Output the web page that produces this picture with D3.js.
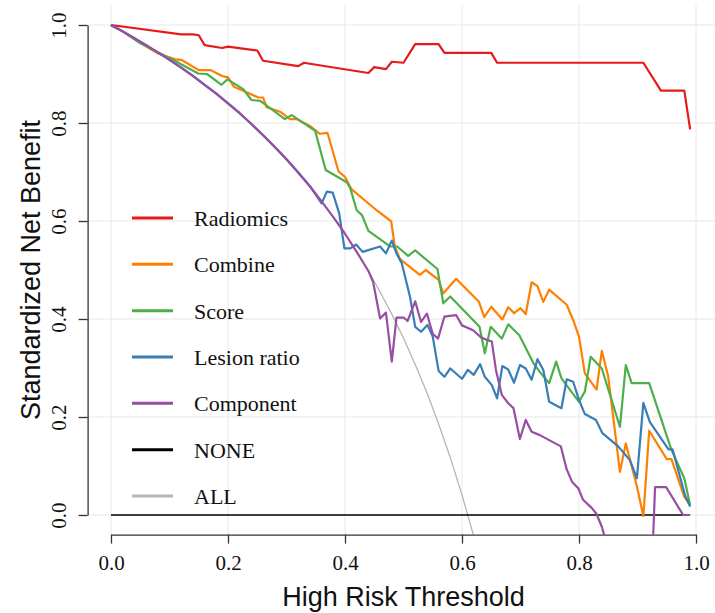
<!DOCTYPE html>
<html><head><meta charset="utf-8">
<script src="https://cdn.jsdelivr.net/npm/d3@7"></script>
<style>body{margin:0;background:#fff}svg{display:block}</style>
</head><body>
<svg id="chart" width="715" height="613"></svg>
<script>
// ---------- data ----------
const xTicks = [0, 0.2, 0.4, 0.6, 0.8, 1.0];
const yTicks = [0, 0.2, 0.4, 0.6, 0.8, 1.0];
const legendLabels = ["Radiomics", "Combine", "Score", "Lesion ratio", "Component", "NONE", "ALL"];
const legendColors = ["#E41A1C", "#FF7F00", "#4DAF4A", "#377EB8", "#984EA3", "#000000", "#B5B5B5"];

const radiomics = [[0,1.0],[0.12,0.981],[0.14,0.981],[0.15,0.979],[0.16,0.959],[0.19,0.953],[0.20,0.956],[0.25,0.948],[0.26,0.927],[0.32,0.916],[0.33,0.923],[0.34,0.921],[0.44,0.902],[0.45,0.914],[0.47,0.910],[0.48,0.925],[0.50,0.923],[0.52,0.961],[0.56,0.961],[0.57,0.943],[0.65,0.943],[0.66,0.923],[0.91,0.923],[0.94,0.866],[0.98,0.866],[0.99,0.787]];

const combine = [[0,1.0],[0.02,0.987],[0.05,0.963],[0.08,0.942],[0.11,0.930],[0.12,0.929],[0.15,0.908],[0.17,0.908],[0.19,0.896],[0.20,0.893],[0.21,0.874],[0.226,0.866],[0.252,0.852],[0.26,0.852],[0.266,0.832],[0.289,0.823],[0.306,0.808],[0.317,0.808],[0.34,0.794],[0.357,0.778],[0.37,0.780],[0.389,0.701],[0.40,0.690],[0.411,0.665],[0.454,0.622],[0.479,0.599],[0.485,0.548],[0.494,0.522],[0.528,0.490],[0.538,0.500],[0.56,0.480],[0.568,0.452],[0.59,0.482],[0.629,0.435],[0.638,0.404],[0.65,0.425],[0.669,0.399],[0.679,0.424],[0.689,0.412],[0.70,0.422],[0.709,0.410],[0.719,0.475],[0.729,0.467],[0.739,0.435],[0.749,0.460],[0.779,0.429],[0.79,0.398],[0.80,0.364],[0.81,0.289],[0.83,0.256],[0.839,0.335],[0.85,0.282],[0.87,0.088],[0.88,0.146],[0.899,0.058],[0.91,-0.002],[0.92,0.172],[0.95,0.114],[0.958,0.114],[0.98,0.037],[0.99,0.020]];

const score = [[0,1.0],[0.02,0.987],[0.05,0.963],[0.112,0.925],[0.149,0.901],[0.164,0.900],[0.189,0.878],[0.199,0.889],[0.226,0.869],[0.24,0.847],[0.255,0.845],[0.275,0.828],[0.297,0.808],[0.309,0.816],[0.349,0.784],[0.367,0.704],[0.403,0.679],[0.409,0.667],[0.42,0.622],[0.429,0.612],[0.44,0.580],[0.477,0.548],[0.489,0.548],[0.508,0.529],[0.52,0.540],[0.558,0.502],[0.568,0.432],[0.58,0.446],[0.63,0.384],[0.639,0.330],[0.649,0.384],[0.668,0.360],[0.679,0.389],[0.698,0.367],[0.722,0.310],[0.733,0.292],[0.749,0.269],[0.761,0.313],[0.77,0.279],[0.80,0.231],[0.81,0.252],[0.82,0.323],[0.839,0.299],[0.87,0.180],[0.88,0.306],[0.89,0.269],[0.92,0.269],[0.958,0.133],[0.98,0.075],[0.99,0.020]];

const lesionRatio = [[0,1.0],[0.02,0.987],[0.04,0.973],[0.06,0.959],[0.08,0.944],[0.10,0.929],[0.12,0.913],[0.14,0.896],[0.16,0.878],[0.18,0.860],[0.20,0.840],[0.22,0.820],[0.24,0.798],[0.26,0.775],[0.28,0.751],[0.30,0.726],[0.32,0.699],[0.34,0.671],[0.36,0.636],[0.369,0.660],[0.379,0.658],[0.39,0.616],[0.399,0.544],[0.409,0.544],[0.419,0.552],[0.43,0.537],[0.46,0.548],[0.47,0.534],[0.48,0.560],[0.488,0.534],[0.497,0.514],[0.511,0.446],[0.52,0.384],[0.53,0.374],[0.541,0.388],[0.55,0.364],[0.56,0.294],[0.57,0.282],[0.58,0.299],[0.60,0.278],[0.61,0.296],[0.62,0.286],[0.631,0.308],[0.639,0.282],[0.651,0.265],[0.66,0.238],[0.669,0.304],[0.679,0.297],[0.689,0.270],[0.699,0.306],[0.709,0.299],[0.719,0.276],[0.729,0.318],[0.739,0.296],[0.749,0.231],[0.77,0.218],[0.779,0.277],[0.79,0.272],[0.80,0.235],[0.81,0.206],[0.829,0.194],[0.84,0.167],[0.867,0.140],[0.887,0.112],[0.899,0.075],[0.91,0.229],[0.921,0.190],[0.953,0.134],[0.96,0.134],[0.981,0.041],[0.99,0.017]];

const component = [[0,1.0],[0.02,0.987],[0.04,0.973],[0.06,0.959],[0.08,0.944],[0.10,0.929],[0.12,0.913],[0.14,0.896],[0.16,0.878],[0.18,0.860],[0.20,0.840],[0.22,0.820],[0.24,0.798],[0.26,0.775],[0.28,0.751],[0.30,0.726],[0.32,0.699],[0.34,0.671],[0.36,0.640],[0.38,0.608],[0.40,0.574],[0.42,0.537],[0.44,0.498],[0.448,0.476],[0.46,0.401],[0.47,0.413],[0.48,0.313],[0.488,0.403],[0.50,0.403],[0.507,0.396],[0.52,0.436],[0.53,0.394],[0.54,0.411],[0.55,0.370],[0.559,0.360],[0.57,0.405],[0.59,0.408],[0.60,0.387],[0.619,0.377],[0.632,0.363],[0.641,0.358],[0.651,0.354],[0.658,0.296],[0.668,0.245],[0.679,0.228],[0.688,0.218],[0.699,0.155],[0.709,0.194],[0.719,0.170],[0.733,0.163],[0.769,0.140],[0.779,0.093],[0.788,0.068],[0.799,0.054],[0.807,0.031],[0.822,0.014],[0.83,0.002],[0.839,-0.024],[0.85,-0.070],[0.88,-0.120],[0.925,-0.100],[0.93,0.057],[0.949,0.057],[0.978,0.0],[0.99,0.0]];

const none = [[0,0],[0.99,0]];

const all = [[0,1.0],[0.02,0.987],[0.04,0.973],[0.06,0.959],[0.08,0.944],[0.10,0.929],[0.12,0.913],[0.14,0.896],[0.16,0.878],[0.18,0.860],[0.20,0.840],[0.22,0.820],[0.24,0.798],[0.26,0.775],[0.28,0.751],[0.30,0.726],[0.32,0.699],[0.34,0.671],[0.36,0.640],[0.38,0.608],[0.40,0.574],[0.42,0.537],[0.44,0.498],[0.46,0.455],[0.48,0.410],[0.50,0.361],[0.52,0.307],[0.54,0.250],[0.56,0.186],[0.58,0.117],[0.60,0.041],[0.62,-0.043],[0.64,-0.137]];

// ---------- drawing ----------
const svg = d3.select("#chart");
svg.append("rect").attr("width",715).attr("height",613).attr("fill","#fff");

const x = d3.scaleLinear().domain([0,1]).range([111,696]);
const y = d3.scaleLinear().domain([0,1]).range([515,25]);
const plotL = x(-0.04), plotR = 715, plotT = y(1.04), plotB = y(-0.04);

svg.append("clipPath").attr("id","clip").append("rect")
  .attr("x",plotL).attr("y",plotT).attr("width",plotR-plotL).attr("height",plotB-plotT);

// grid
const grid = svg.append("g").attr("stroke","#e8e8e8").attr("stroke-width",1);
grid.selectAll("line.v").data(xTicks).join("line").attr("class","v")
  .attr("x1",d=>x(d)).attr("x2",d=>x(d)).attr("y1",plotT).attr("y2",plotB);
grid.selectAll("line.h").data(yTicks).join("line").attr("class","h")
  .attr("y1",d=>y(d)).attr("y2",d=>y(d)).attr("x1",plotL).attr("x2",plotR);

// curves
const line = d3.line().x(d=>x(d[0])).y(d=>y(d[1]));
const plot = svg.append("g").attr("clip-path","url(#clip)").attr("fill","none")
  .attr("stroke-linejoin","round").attr("stroke-linecap","butt");
plot.append("path").datum(all).attr("d",line).attr("stroke",legendColors[6]).attr("stroke-width",1.3);
plot.append("path").datum(none).attr("d",line).attr("stroke",legendColors[5]).attr("stroke-width",1.5);
const series = [radiomics, combine, score, lesionRatio, component];
series.forEach((s,i)=>{
  plot.append("path").datum(s).attr("d",line).attr("stroke",legendColors[i]).attr("stroke-width",2.2);
});

// axes
const serif = "'Liberation Serif','Times New Roman',serif";
const sans = "'Liberation Sans',Arial,sans-serif";
const xAxis = svg.append("g").attr("transform",`translate(0,${plotB})`)
  .call(d3.axisBottom(x).tickValues(xTicks).tickFormat(d3.format(".1f")).tickSize(9).tickSizeOuter(0));
const yAxis = svg.append("g").attr("transform",`translate(${plotL},0)`)
  .call(d3.axisLeft(y).tickValues(yTicks).tickFormat(d3.format(".1f")).tickSize(9).tickSizeOuter(0));
[xAxis,yAxis].forEach(a=>{
  a.select(".domain").attr("stroke","#333").attr("stroke-width",1.3);
  a.selectAll(".tick line").attr("stroke","#333").attr("stroke-width",1.3);
  a.selectAll("text").attr("fill","#111").style("font-family",serif).style("font-size","21px");
});
xAxis.selectAll("text").attr("y",35).attr("dy",0);
yAxis.selectAll("text").attr("x",null).attr("dy",0).attr("text-anchor","middle")
  .attr("transform","translate(-22,0) rotate(-90)");

// titles
svg.append("text").attr("x",(x(0)+x(1))/2).attr("y",606).attr("text-anchor","middle")
  .style("font-family",sans).style("font-size","27px").attr("fill","#111").text("High Risk Threshold");
svg.append("text").attr("transform",`translate(40,${(y(0)+y(1))/2}) rotate(-90)`).attr("text-anchor","middle")
  .style("font-family",sans).style("font-size","27px").attr("fill","#111").text("Standardized Net Benefit");

// legend
const rowY = d3.scaleLinear().domain([0,6]).range([218,496]);
const leg = svg.append("g");
legendLabels.forEach((lab,i)=>{
  leg.append("line").attr("x1",132).attr("x2",173).attr("y1",rowY(i)).attr("y2",rowY(i))
    .attr("stroke",legendColors[i]).attr("stroke-width",3);
  leg.append("text").attr("x",194).attr("y",rowY(i)+8).style("font-family",serif)
    .style("font-size","22px").attr("fill","#111").text(lab);
});
</script>
</body></html>
